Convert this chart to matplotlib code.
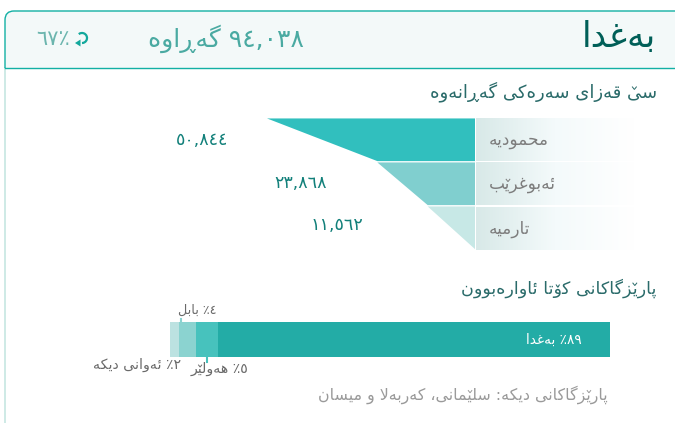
import re
import numpy as np
import matplotlib
matplotlib.use('Agg')
import matplotlib.pyplot as plt
from matplotlib.font_manager import FontProperties
from matplotlib.patches import Arc, PathPatch, Polygon
from matplotlib.path import Path

plt.rcParams['font.family'] = ['DejaVu Sans']

# Data
title = 'بەغدا'
returned = '٩٤,٠٣٨ گەڕاوە'
returned_pct = '٪٦٧'
funnel_title = 'سێ قەزای سەرەکی گەڕانەوە'
districts = ['محمودیە', 'ئەبوغرێب', 'تارمیە']
district_values = [50844, 23868, 11562]
district_labels = ['٥٠,٨٤٤', '٢٣,٨٦٨', '١١,٥٦٢']
district_colors = ['#31bfbe', '#80cfcf', '#c7e8e6']
share_title = 'پارێزگاکانی کۆتا ئاوارەبوون'
shares = [2, 4, 5, 89]
share_colors = ['#bce2e1', '#8bd3d0', '#47c2bd', '#23aca6']
share_note = 'پارێزگاکانی دیکە: سلێمانی، کەربەلا و میسان'

# Arabic forms: isolated, final, initial, medial. matplotlib does no shaping itself
FORMS = {
    'ا': 'ﺍﺎ', 'د': 'ﺩﺪ', 'ر': 'ﺭﺮ', 'ز': 'ﺯﺰ', 'و': 'ﻭﻮ', 'ۆ': 'ۆۆ',
    'ە': 'ەﻪ', 'ڕ': 'ڕڕ',
    'ب': 'ﺏﺐﺑﺒ', 'ت': 'ﺕﺖﺗﺘ', 'پ': 'ﭖﭗﭘﭙ', 'ح': 'ﺡﺢﺣﺤ', 'س': 'ﺱﺲﺳﺴ',
    'غ': 'ﻍﻎﻏﻐ', 'ق': 'ﻕﻖﻗﻘ', 'ک': 'ﮎﮏﮐﮑ', 'گ': 'ﮒﮓﮔﮕ', 'ل': 'ﻝﻞﻟﻠ',
    'م': 'ﻡﻢﻣﻤ', 'ن': 'ﻥﻦﻧﻨ', 'ه': 'ﻩﻪﻫﻬ', 'ی': 'ﯼﯽﯾﯿ', 'ئ': 'ﺉﺊﺋﺌ',
}
FORMS['ێ'] = FORMS['ی']


def rtl(text):
    """Shape Arabic-script text, give back the string in visual order and
    the indexes of the glyphs that need the small v of ێ on top."""
    glyphs = []
    marked = []
    i = 0
    n = len(text)
    prev_joins = False
    while i < n:
        c = text[i]
        if c not in FORMS:
            run = re.match(r'[٠-٩,]+', text[i:])
            if run:
                glyphs.append(run.group())
                i += len(run.group())
            else:
                glyphs.append(c)
                i += 1
            prev_joins = False
            continue
        if c == 'ل' and i + 1 < n and text[i + 1] == 'ا':
            glyphs.append('ﻼ' if prev_joins else 'ﻻ')
            prev_joins = False
            i += 2
            continue
        forms = FORMS[c]
        dual = len(forms) == 4
        next_ok = i + 1 < n and text[i + 1] in FORMS
        if dual and next_ok:
            g = forms[3] if prev_joins else forms[2]
        else:
            g = forms[1] if prev_joins else forms[0]
        if c == 'ێ':
            marked.append(len(glyphs))
        glyphs.append(g)
        prev_joins = dual and next_ok
        i += 1
    glyphs.reverse()
    return glyphs, [len(glyphs) - 1 - k for k in marked]


W, H = 675, 423
fig = plt.figure(figsize=(W / 100, H / 100), dpi=100, facecolor='white')
renderer = fig.canvas.get_renderer()


def px_axes(x0, y0, x1, y1):
    return fig.add_axes([x0 / W, 1 - y1 / H, (x1 - x0) / W, (y1 - y0) / H])


# Page layer in pixel coordinates: card, header, text
page = fig.add_axes([0, 0, 1, 1])
page.set_xlim(0, W)
page.set_ylim(H, 0)
page.axis('off')


def put(x, y, text, size, color, ha='right', zorder=5):
    """y is the middle of the line, in pixels from the top."""
    glyphs, marked = rtl(text)
    plain = ''.join(glyphs)
    prop = FontProperties(size=size)
    em = size * 100 / 72
    base = y + 0.3 * em

    def width(s):
        return renderer.get_text_width_height_descent(s, prop, False)[0]

    page.text(x, base, plain, ha=ha, va='baseline', fontsize=size, color=color, zorder=zorder)
    x_left = x - width(plain) if ha == 'right' else x
    # small v of ێ, the font has no joined forms of that letter
    for k in marked:
        x_mark = x_left + width(''.join(glyphs[:k + 1])) - width(glyphs[k]) / 2
        page.plot([x_mark - 0.11 * em, x_mark, x_mark + 0.11 * em],
                  [base - 0.58 * em, base - 0.44 * em, base - 0.58 * em],
                  color=color, lw=0.7, solid_joinstyle='miter', zorder=zorder)


border = '#12b0a4'
r = 9
verts = [(5, 68), (5, 11 + r), (5, 11), (5 + r, 11), (W + 5, 11), (W + 5, 68), (5, 68)]
codes = [Path.MOVETO, Path.LINETO, Path.CURVE3, Path.CURVE3, Path.LINETO, Path.LINETO, Path.LINETO]
page.add_patch(PathPatch(Path(verts, codes), facecolor='#f3f9f9', edgecolor='none', zorder=1))
page.plot([5, 5], [68, H], color='#c6e6e2', lw=1.2, zorder=2)
page.add_patch(PathPatch(Path([(5, 68), (5, 11 + r), (5, 11), (5 + r, 11), (W + 5, 11)],
                              [Path.MOVETO, Path.LINETO, Path.CURVE3, Path.CURVE3, Path.LINETO]),
                         facecolor='none', edgecolor=border, lw=1, zorder=2))
page.plot([5, W], [68, 68], color=border, lw=1, zorder=2)

put(656, 37, title, 25, '#005f58')
put(304, 39, returned, 18, '#4aaaa2')
put(70, 39, returned_pct, 15, '#6bb5ae')

# Refresh icon next to the percent
icon = '#12a89c'
page.add_patch(Arc((82, 38), 10, 10, theta1=-130, theta2=90, color=icon, lw=1.6, zorder=3))
page.add_patch(Polygon([(75, 43), (80.5, 39.5), (80.5, 46.5)], facecolor=icon, edgecolor='none', zorder=3))

put(657, 92, funnel_title, 13, '#2a6b6a')
put(656, 288, share_title, 12.6, '#2a6b6a')
put(608, 395, share_note, 11.4, '#9a9a9a')

# Funnel: one row per district, width follows the value
funnel = px_axes(267, 118, 475, 250)
funnel.set_xlim(max(district_values), 0)
funnel.set_ylim(len(district_values), 0)
funnel.axis('off')
funnel.patch.set_alpha(0)
edges = district_values + [0]
for i, color in enumerate(district_colors):
    funnel.add_patch(Polygon([(0, i + 0.01), (edges[i], i + 0.01), (edges[i + 1], i + 0.98), (0, i + 0.98)],
                             facecolor=color, edgecolor='none'))

# Gradient strips behind the district names
fade = np.linspace(0, 1, 256).reshape(1, -1)
strip_cmap = matplotlib.colors.LinearSegmentedColormap.from_list('strip', ['#d8e9e8', '#f4fafb', '#ffffff'])
row_tops = [118, 162, 207]
for top, name in zip(row_tops, districts):
    page.imshow(fade, extent=(476, 634, top + 43, top), cmap=strip_cmap, aspect='auto', zorder=1.5)
    put(489, top + 22, name, 12.2, '#7d7d7d', ha='left')
page.set_xlim(0, W)
page.set_ylim(H, 0)

label_pos = [(228, 140), (327, 183), (363, 225)]
for (x, y), label in zip(label_pos, district_labels):
    put(x, y, label, 12.6, '#12807a')

# Stacked share bar
bar = px_axes(170, 322, 610, 357)
bar.set_xlim(0, sum(shares))
bar.set_ylim(0, 1)
bar.axis('off')
bar.patch.set_alpha(0)
left = 0
for value, color in zip(shares, share_colors):
    bar.barh(0.5, value, height=1, left=left, color=color, linewidth=0)
    left += value
page.set_zorder(bar.get_zorder() + 1)
page.patch.set_alpha(0)

put(582, 340, '٨٩٪ بەغدا', 9.8, 'white')
put(217, 310, '٤٪ بابل', 9.2, '#6a6a6a')
put(181, 365, '٢٪ ئەوانی دیکە', 10.2, '#6a6a6a')
put(248, 369, '٥٪ هەولێر', 10.2, '#6a6a6a')
page.plot([181, 181], [319, 322], color='#8bd3d0', lw=1.5, zorder=3)
page.plot([207, 207], [357, 362], color='#47c2bd', lw=1.5, zorder=3)

fig.savefig('out.png', dpi=100)
